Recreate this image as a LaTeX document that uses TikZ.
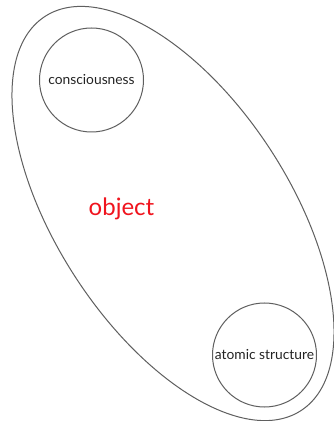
\documentclass[tikz,border=0pt]{standalone}
\usepackage{fontspec}
\setmainfont{Lato}
\definecolor{linegray}{RGB}{95,95,95}
\definecolor{textgray}{RGB}{35,35,35}
\definecolor{objred}{RGB}{240,20,30}
\begin{document}
\begin{tikzpicture}[x=1pt,y=1pt,
  outline/.style={draw=linegray,line width=1pt},
  part/.style={circle,outline,minimum size=104pt,inner sep=0pt,text=textgray,font=\fontsize{13.8}{16}\selectfont},
  label/.style={text=objred,font=\fontsize{24}{28}\selectfont}]
\useasboundingbox (0,0) rectangle (334,421);
\fill[white] (0,0) rectangle (334,421);
\draw[outline,rotate around={-57:(173,207.5)}] (173,207.5) ellipse [x radius=235, y radius=116.5];
\node[part] (cons) at (91.5,341) {consciousness};
\node[part] (atom) at (264.5,66) {atomic structure};
\node[label] (obj) at (121.5,212) {object};
\end{tikzpicture}
\end{document}
